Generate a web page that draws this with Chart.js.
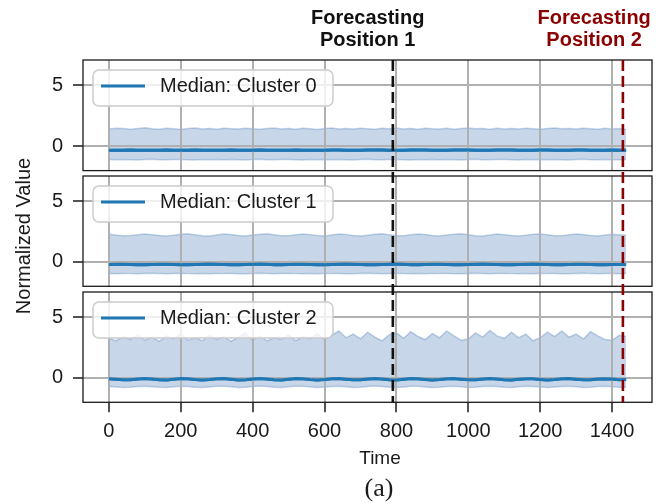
<!DOCTYPE html>
<html><head><meta charset="utf-8">
<script src="https://cdn.jsdelivr.net/npm/chart.js@4.4.1/dist/chart.umd.min.js"></script>
<style>
html,body{margin:0;padding:0;background:#fff;}
#wrap{position:relative;width:656px;height:504px;overflow:hidden;background:#fff;}
#wrap canvas{position:absolute;left:0;}
.lbl{position:absolute;font-family:'Liberation Sans',Arial,sans-serif;color:#1a1a1a;white-space:nowrap;}
#ylab{left:-127px;top:224px;width:300px;text-align:center;font-size:20px;line-height:24px;transform:rotate(-90deg);}
</style></head><body>
<div id="wrap">
<canvas id="c0" width="656" height="173" style="top:0px"></canvas>
<canvas id="c1" width="656" height="116" style="top:173px"></canvas>
<canvas id="c2" width="656" height="215" style="top:289px"></canvas>
<div class="lbl" id="ylab">Normalized Value</div>
</div>
<script>
// ---------------- data ----------------
const times = [
  0,20,40,60,80,100,120,140,160,180,
  200,220,240,260,280,300,320,340,360,380,
  400,420,440,460,480,500,520,540,560,580,
  600,620,640,660,680,700,720,740,760,780,
  800,820,840,860,880,900,920,940,960,980,
  1000,1020,1040,1060,1080,1100,1120,1140,1160,1180,
  1200,1220,1240,1260,1280,1300,1320,1340,1360,1380,
  1400,1420,1439];

const seriesLabels = ['Median: Cluster 0','Median: Cluster 1','Median: Cluster 2'];

const median0 = [
  -0.33,-0.34,-0.33,-0.32,-0.33,-0.34,-0.34,-0.33,-0.32,-0.33,
  -0.34,-0.33,-0.32,-0.33,-0.34,-0.33,-0.33,-0.32,-0.33,-0.34,
  -0.33,-0.32,-0.33,-0.34,-0.34,-0.33,-0.32,-0.33,-0.33,-0.34,
  -0.33,-0.32,-0.32,-0.33,-0.34,-0.33,-0.32,-0.31,-0.32,-0.33,
  -0.34,-0.33,-0.32,-0.31,-0.32,-0.33,-0.34,-0.33,-0.32,-0.31,
  -0.32,-0.33,-0.34,-0.33,-0.32,-0.31,-0.32,-0.33,-0.34,-0.33,
  -0.32,-0.32,-0.33,-0.34,-0.33,-0.32,-0.32,-0.33,-0.34,-0.33,
  -0.32,-0.33,-0.33];
const upper0 = [
  1.40,1.47,1.44,1.38,1.45,1.50,1.42,1.39,1.46,1.43,
  1.37,1.44,1.48,1.41,1.45,1.39,1.47,1.43,1.40,1.46,
  1.42,1.38,1.45,1.49,1.41,1.44,1.39,1.46,1.42,1.37,
  1.44,1.48,1.40,1.45,1.41,1.47,1.43,1.38,1.46,1.42,
  1.49,1.40,1.44,1.39,1.47,1.43,1.41,1.46,1.38,1.44,
  1.48,1.42,1.45,1.39,1.47,1.41,1.44,1.40,1.46,1.43,
  1.38,1.45,1.49,1.42,1.44,1.40,1.47,1.43,1.39,1.46,
  1.41,1.44,1.36];
const lower0 = [
  -1.10,-1.12,-1.09,-1.11,-1.13,-1.10,-1.08,-1.11,-1.12,-1.10,
  -1.09,-1.11,-1.13,-1.10,-1.12,-1.09,-1.11,-1.10,-1.12,-1.13,
  -1.10,-1.08,-1.11,-1.12,-1.10,-1.09,-1.11,-1.13,-1.10,-1.12,
  -1.09,-1.11,-1.10,-1.12,-1.13,-1.10,-1.08,-1.11,-1.12,-1.10,
  -1.09,-1.11,-1.13,-1.10,-1.12,-1.09,-1.11,-1.10,-1.12,-1.13,
  -1.10,-1.08,-1.11,-1.12,-1.10,-1.09,-1.11,-1.13,-1.10,-1.12,
  -1.09,-1.11,-1.10,-1.12,-1.13,-1.10,-1.08,-1.11,-1.12,-1.10,
  -1.11,-1.12,-1.10];

const median1 = [
  -0.22,-0.20,-0.19,-0.21,-0.23,-0.24,-0.22,-0.20,-0.19,-0.21,
  -0.23,-0.24,-0.22,-0.20,-0.18,-0.20,-0.22,-0.24,-0.23,-0.21,
  -0.19,-0.18,-0.20,-0.23,-0.24,-0.22,-0.20,-0.19,-0.21,-0.23,
  -0.24,-0.22,-0.19,-0.18,-0.20,-0.22,-0.24,-0.23,-0.21,-0.19,
  -0.18,-0.20,-0.23,-0.24,-0.22,-0.20,-0.19,-0.21,-0.23,-0.24,
  -0.22,-0.20,-0.18,-0.19,-0.22,-0.24,-0.23,-0.21,-0.19,-0.18,
  -0.20,-0.22,-0.24,-0.23,-0.21,-0.19,-0.20,-0.22,-0.24,-0.23,
  -0.22,-0.21,-0.22];
const upper1 = [
  2.28,2.20,2.14,2.16,2.22,2.30,2.24,2.17,2.12,2.19,
  2.27,2.31,2.22,2.15,2.13,2.21,2.29,2.25,2.16,2.12,
  2.20,2.28,2.32,2.23,2.15,2.14,2.22,2.30,2.24,2.16,
  2.13,2.21,2.29,2.26,2.17,2.12,2.19,2.27,2.31,2.22,
  2.15,2.14,2.23,2.30,2.25,2.16,2.13,2.20,2.28,2.32,
  2.23,2.15,2.13,2.21,2.29,2.24,2.17,2.12,2.19,2.27,
  2.30,2.22,2.15,2.14,2.22,2.29,2.25,2.16,2.13,2.20,
  2.27,2.22,2.18];
const lower1 = [
  -0.95,-0.97,-0.94,-0.96,-0.98,-0.95,-0.93,-0.96,-0.97,-0.95,
  -0.94,-0.96,-0.98,-0.95,-0.97,-0.94,-0.96,-0.95,-0.97,-0.98,
  -0.95,-0.93,-0.96,-0.97,-0.95,-0.94,-0.96,-0.98,-0.95,-0.97,
  -0.94,-0.96,-0.95,-0.97,-0.98,-0.95,-0.93,-0.96,-0.97,-0.95,
  -0.94,-0.96,-0.98,-0.95,-0.97,-0.94,-0.96,-0.95,-0.97,-0.98,
  -0.95,-0.93,-0.96,-0.97,-0.95,-0.94,-0.96,-0.98,-0.95,-0.97,
  -0.94,-0.96,-0.95,-0.97,-0.98,-0.95,-0.93,-0.96,-0.97,-0.95,
  -0.96,-0.97,-0.95];

const median2 = [
  -0.06,-0.10,-0.15,-0.14,-0.08,-0.05,-0.09,-0.15,-0.16,-0.10,
  -0.05,-0.07,-0.13,-0.16,-0.12,-0.06,-0.05,-0.11,-0.16,-0.14,
  -0.08,-0.04,-0.08,-0.14,-0.17,-0.11,-0.05,-0.06,-0.12,-0.16,
  -0.13,-0.07,-0.05,-0.10,-0.15,-0.15,-0.09,-0.04,-0.08,-0.14,
  -0.16,-0.11,-0.05,-0.06,-0.12,-0.17,-0.13,-0.07,-0.05,-0.10,
  -0.15,-0.15,-0.09,-0.05,-0.08,-0.14,-0.16,-0.11,-0.06,-0.07,
  -0.12,-0.16,-0.13,-0.07,-0.05,-0.10,-0.15,-0.15,-0.09,-0.06,
  -0.09,-0.14,-0.13];
const upper2 = [
  3.25,3.05,3.40,3.15,3.55,3.10,3.35,3.00,3.45,3.20,
  3.60,3.10,3.30,3.05,3.50,3.15,3.40,3.00,3.35,3.70,
  3.10,3.45,3.05,3.30,3.15,3.55,3.05,3.40,3.20,3.65,
  3.15,3.50,3.85,3.30,3.60,3.20,3.75,3.35,3.05,3.55,
  3.70,3.25,3.80,3.40,3.15,3.65,3.30,3.85,3.45,3.10,
  3.20,3.70,3.35,3.90,3.45,3.25,3.75,3.30,3.60,3.05,
  3.30,3.75,3.40,3.85,3.35,3.60,3.20,3.80,3.45,3.15,
  3.10,3.50,3.40];
const lower2 = [
  -0.70,-0.74,-0.78,-0.76,-0.71,-0.68,-0.72,-0.77,-0.78,-0.73,
  -0.68,-0.70,-0.76,-0.79,-0.74,-0.69,-0.68,-0.73,-0.78,-0.77,
  -0.71,-0.67,-0.71,-0.77,-0.79,-0.73,-0.68,-0.69,-0.75,-0.78,
  -0.75,-0.70,-0.68,-0.73,-0.78,-0.77,-0.71,-0.67,-0.71,-0.76,
  -0.79,-0.74,-0.68,-0.69,-0.75,-0.79,-0.76,-0.70,-0.68,-0.73,
  -0.78,-0.77,-0.71,-0.68,-0.71,-0.77,-0.79,-0.73,-0.69,-0.70,
  -0.75,-0.79,-0.75,-0.70,-0.68,-0.73,-0.78,-0.77,-0.71,-0.69,
  -0.72,-0.77,-0.76];

const xTicks = [0,200,400,600,800,1000,1200,1400];
const xTickLabels = ['0','200','400','600','800','1000','1200','1400'];
const yTicks = [0,5];
const yTickLabels = ['0','5'];

const forecastLines = [790, 1430];
const forecastLabelX = [720, 1350];
const forecastLabels = [['Forecasting','Position 1'],['Forecasting','Position 2']];
const forecastColors = ['#111111','#8b0000'];

// ---------------- styling ----------------
const FONT = "'Liberation Sans', Arial, Helvetica, sans-serif";
Chart.defaults.font.family = FONT;
Chart.defaults.color = '#1a1a1a';
const X_MIN = -71.95, X_MAX = 1510.95, Y_MIN = -2.0, Y_MAX = 7.05;
const MEDIAN_COLOR = '#1f77b4';
const BAND_FILL = 'rgba(31,92,166,0.25)';
const BAND_EDGE = 'rgba(31,92,166,0.25)';
const GRID = '#b0b0b0';
const INK = '#1a1a1a';

const medians = [median0, median1, median2];
const uppers = [upper0, upper1, upper2];
const lowers = [lower0, lower1, lower2];

function pts(arr){ return times.map((t,i)=>({x:t, y:arr[i]})); }

const decor = {
  id: 'decor',
  afterDraw(chart, args, o){
    const ctx = chart.ctx, a = chart.chartArea, xs = chart.scales.x;
    // median line redrawn above the grid (grid sits above the band)
    ctx.save();
    ctx.beginPath(); ctx.rect(a.left, a.top, a.right - a.left, a.bottom - a.top); ctx.clip();
    chart.getDatasetMeta(0).controller.draw();
    ctx.restore();
    ctx.save();
    // frame
    ctx.strokeStyle = INK; ctx.lineWidth = 1.3; ctx.setLineDash([]);
    ctx.strokeRect(a.left, a.top, a.right - a.left, a.bottom - a.top);
    // legend
    const lx = a.left + 10, ly = a.top + 10, lw = 240, lh = 36;
    ctx.beginPath();
    ctx.roundRect(lx, ly, lw, lh, 6);
    ctx.fillStyle = 'rgba(255,255,255,0.8)'; ctx.fill();
    ctx.strokeStyle = '#cccccc'; ctx.lineWidth = 1.5; ctx.stroke();
    const ds = chart.data.datasets[0];
    ctx.beginPath(); ctx.moveTo(lx + 8, ly + 16); ctx.lineTo(lx + 52, ly + 16);
    ctx.strokeStyle = ds.borderColor; ctx.lineWidth = 3; ctx.stroke();
    ctx.fillStyle = INK; ctx.font = '20px ' + FONT; ctx.textAlign = 'left'; ctx.textBaseline = 'alphabetic';
    ctx.fillText(ds.label, lx + 67, ly + 22);
    // dashed forecasting lines
    const y0 = o.fromArea ? a.top : 0;
    const y1 = o.toArea ? a.bottom : chart.height;
    forecastLines.forEach((v, i) => {
      const px = xs.getPixelForValue(v);
      ctx.beginPath();
      ctx.setLineDash([11, 5]);
      ctx.lineDashOffset = o.dashOffset;
      ctx.strokeStyle = forecastColors[i]; ctx.lineWidth = 2.6;
      ctx.moveTo(px, y0); ctx.lineTo(px, y1); ctx.stroke();
    });
    ctx.setLineDash([]);
    // annotations above the top panel
    if (o.annotate) {
      ctx.font = 'bold 20px ' + FONT; ctx.textAlign = 'center'; ctx.textBaseline = 'alphabetic';
      forecastLabelX.forEach((v, i) => {
        const px = xs.getPixelForValue(v);
        ctx.fillStyle = forecastColors[i];
        ctx.fillText(forecastLabels[i][0], px, 24);
        ctx.fillText(forecastLabels[i][1], px, 46);
      });
    }
    // footer texts
    if (o.footer) {
      ctx.fillStyle = INK; ctx.textAlign = 'center'; ctx.textBaseline = 'alphabetic';
      ctx.font = '19px ' + FONT;
      ctx.fillText('Time', 380, 464 - 289);
      ctx.font = "26px 'Liberation Serif', 'Times New Roman', serif";
      ctx.fillText('(a)', 379, 496 - 289);
    }
    ctx.restore();
  }
};

function makePanel(idx, id, padTop, padBottom, showX, xAxisH, decorOpts){
  new Chart(document.getElementById(id), {
    type: 'line',
    data: { datasets: [
      { label: seriesLabels[idx], data: pts(medians[idx]), borderColor: MEDIAN_COLOR, borderWidth: 3,
        pointRadius: 0, fill: false, tension: 0 },
      { label: 'lower', data: pts(lowers[idx]), borderColor: BAND_EDGE, borderWidth: 1.5,
        pointRadius: 0, fill: false, tension: 0 },
      { label: 'upper', data: pts(uppers[idx]), borderColor: BAND_EDGE, borderWidth: 1.5,
        pointRadius: 0, fill: '-1', backgroundColor: BAND_FILL, tension: 0 }
    ]},
    options: {
      responsive: false, animation: false, devicePixelRatio: 1, events: [],
      layout: { padding: { top: padTop, bottom: padBottom, left: 0, right: 4 }, autoPadding: false },
      plugins: { legend: { display: false }, tooltip: { enabled: false }, decor: decorOpts },
      scales: {
        x: {
          type: 'linear', position: 'bottom', min: X_MIN, max: X_MAX,
          afterBuildTicks: s => { s.ticks = xTicks.map(v => ({ value: v })); },
          afterFit: s => { s.height = showX ? xAxisH : 0; s.paddingLeft = 0; s.paddingRight = 0; },
          ticks: { display: showX, padding: 7, maxRotation: 0, autoSkip: false, color: INK,
                   font: { size: 20 }, callback: (v, i) => xTickLabels[i] },
          grid: { z: 1, color: GRID, lineWidth: 2, drawTicks: showX, tickLength: 10, tickColor: INK, tickWidth: 1.5 },
          border: { display: false }
        },
        y: {
          type: 'linear', min: Y_MIN, max: Y_MAX,
          afterBuildTicks: s => { s.ticks = yTicks.map(v => ({ value: v })); },
          afterFit: s => { s.width = 83; s.paddingTop = 0; s.paddingBottom = 0; },
          ticks: { padding: 10, color: INK, font: { size: 20 }, callback: (v, i) => yTickLabels[i] },
          grid: { z: 1, color: GRID, lineWidth: 2, drawTicks: true, tickLength: 10, tickColor: INK, tickWidth: 1.5 },
          border: { display: false }
        }
      }
    },
    plugins: [decor]
  });
}

makePanel(0, 'c0', 60, 2.4, false, 0, { fromArea: true, toArea: false, dashOffset: 0, annotate: true });
makePanel(1, 'c1', 3, 2.7, false, 0, { fromArea: false, toArea: false, dashOffset: 113 });
makePanel(2, 'c2', 3, 0, true, 101.7, { fromArea: false, toArea: true, dashOffset: 229, footer: true });
</script>
</body></html>
